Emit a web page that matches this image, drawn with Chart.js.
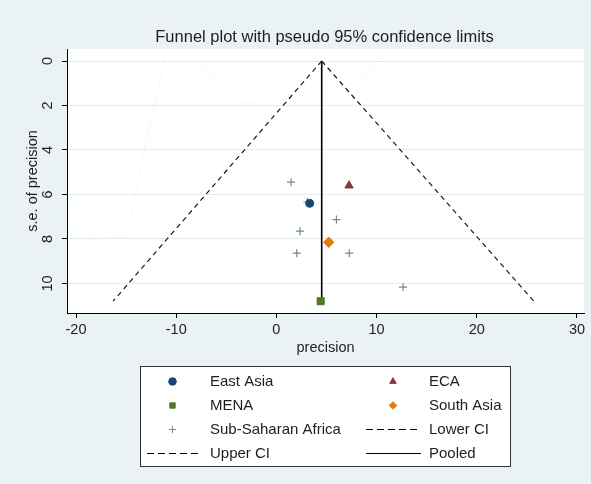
<!DOCTYPE html>
<html>
<head>
<meta charset="utf-8">
<script src="https://cdn.jsdelivr.net/npm/chart.js@4/dist/chart.umd.min.js"></script>
<style>
  html, body { margin: 0; padding: 0; background: #eaf2f3; }
  #wrap { width: 591px; height: 484px; position: relative; }
</style>
</head>
<body>
<div id="wrap"><canvas id="funnel"></canvas></div>
<script>
// --- DATA ---
const chartTitle = 'Funnel plot with pseudo 95% confidence limits';
const xTicks = [-20, -10, 0, 10, 20, 30];
const yTicks = [0, 2, 4, 6, 8, 10];

// region points: x = precision, y = s.e. of precision
const eastAsia = [{ x: 3.32, y: 6.4 }];
const eca = [{ x: 7.25, y: 5.6 }];
const mena = [{ x: 4.42, y: 10.8 }];
const southAsia = [{ x: 5.22, y: 8.15 }];
const subSaharan = [
    { x: 1.46, y: 5.45 }, { x: 3.09, y: 6.34 }, { x: 5.99, y: 7.13 },
    { x: 2.36, y: 7.65 }, { x: 2.03, y: 8.64 }, { x: 7.28, y: 8.64 },
    { x: 12.64, y: 10.17 }
];

// funnel lines
const lowerCI = [{ x: 4.52, y: 0 }, { x: -16.3, y: 10.8 }];
const upperCI = [{ x: 4.52, y: 0 }, { x: 25.7, y: 10.8 }];
const pooled = [{ x: 4.52, y: 0 }, { x: 4.52, y: 10.8 }];

// faint ghost traces visible in the plot background
const ghostA = [{ x: -11.15, y: -0.18 }, { x: -14.97, y: 7.9 }, { x: -20.1, y: 8.09 }];
const ghostB = [{ x: -8.05, y: -0.15 }, { x: -4.49, y: 1.83 }, { x: 0.13, y: 2.02 }];
const ghostC = [{ x: 10.3, y: -0.13 }, { x: 7.6, y: 1.2 }];

const FONT = 'Arial, "Liberation Sans", sans-serif';

// --- helpers ---
function pointSet(label, data, style, color, radius, extra) {
    return Object.assign({
        label, data,
        pointStyle: style,
        pointRadius: radius,
        pointHoverRadius: radius,
        backgroundColor: color,
        borderColor: color,
        pointBorderWidth: 1,
        showLine: false
    }, extra || {});
}

function lineSet(label, data, dash, width, color) {
    return {
        label, data,
        showLine: true,
        pointRadius: 0,
        borderColor: color,
        borderWidth: width,
        borderDash: dash,
        backgroundColor: color,
        fill: false
    };
}

function ghostSet(data) {
    const d = lineSet('', data, [1, 3], 1, 'rgba(195,202,206,0.5)');
    d.ghost = true;
    return d;
}

// --- PLUGINS ---
const bgPlugin = {
    id: 'bg',
    beforeDraw(chart) {
        const { ctx, chartArea: a } = chart;
        ctx.save();
        ctx.fillStyle = '#eaf2f3';
        ctx.fillRect(0, 0, chart.width, chart.height);
        ctx.fillStyle = '#ffffff';
        ctx.fillRect(a.left, a.top, a.right - a.left, a.bottom - a.top);
        ctx.restore();
    },
    afterDraw(chart) {
        const { ctx, chartArea: a } = chart;
        ctx.save();
        ctx.fillStyle = '#1e1e1e';
        ctx.font = '16.5px ' + FONT;
        ctx.textAlign = 'center';
        ctx.textBaseline = 'middle';
        ctx.fillText(chartTitle, (a.left + a.right) / 2 - 1, 37);
        ctx.restore();
    }
};

// legend box in two columns, like the Stata one
const legendPlugin = {
    id: 'boxLegend',
    afterDraw(chart) {
        const ctx = chart.ctx;
        const items = chart.data.datasets.filter(d => !d.ghost);
        const box = { x: 140.5, y: 366.5, w: 370, h: 100 };
        const rowY = [381.5, 405.5, 429.5, 453.5];
        const colSym = [172.5, 393];
        const colLine = [[147, 202], [366, 421]];
        const colText = [210, 429];

        ctx.save();
        ctx.fillStyle = '#ffffff';
        ctx.fillRect(box.x, box.y, box.w, box.h);
        ctx.strokeStyle = '#333333';
        ctx.lineWidth = 1;
        ctx.strokeRect(box.x, box.y, box.w, box.h);

        ctx.font = '15px ' + FONT;
        ctx.textBaseline = 'middle';
        ctx.textAlign = 'left';

        items.forEach((d, i) => {
            const col = i % 2;
            const y = rowY[Math.floor(i / 2)];
            if (d.showLine) {
                ctx.save();
                ctx.strokeStyle = '#000000';
                ctx.lineWidth = 1.2;
                ctx.setLineDash(d.borderDash && d.borderDash.length ? [7, 4] : []);
                ctx.beginPath();
                ctx.moveTo(colLine[col][0], y);
                ctx.lineTo(colLine[col][1], y);
                ctx.stroke();
                ctx.restore();
            } else {
                ctx.fillStyle = d.backgroundColor;
                ctx.strokeStyle = d.borderColor;
                ctx.lineWidth = 1;
                Chart.helpers.drawPoint(ctx, {
                    pointStyle: d.pointStyle,
                    radius: d.pointStyle === 'cross' ? 3.5 : 3.8,
                    borderWidth: 1,
                    rotation: 0
                }, colSym[col], y);
            }
            ctx.fillStyle = '#1e1e1e';
            ctx.fillText(d.label, colText[col], y);
        });
        ctx.restore();
    }
};

// --- CHART ---
const ctx = document.getElementById('funnel').getContext('2d');

new Chart(ctx, {
    type: 'scatter',
    data: {
        datasets: [
            pointSet('East Asia', eastAsia, 'circle', '#1a476f', 4),
            pointSet('ECA', eca, 'triangle', '#90353b', 4.8),
            pointSet('MENA', mena, 'rect', '#55752f', 5),
            pointSet('South Asia', southAsia, 'rectRot', '#e37e00', 5.2),
            pointSet('Sub-Saharan Africa', subSaharan, 'cross', '#6e8e84', 4, { pointBorderWidth: 1.2 }),
            lineSet('Lower CI', lowerCI, [5, 4], 1.2, '#1a1a1a'),
            lineSet('Upper CI', upperCI, [5, 4], 1.2, '#1a1a1a'),
            lineSet('Pooled', pooled, [], 1.6, '#000000'),
            ghostSet(ghostA),
            ghostSet(ghostB),
            ghostSet(ghostC)
        ]
    },
    options: {
        responsive: true,
        maintainAspectRatio: false,
        animation: false,
        layout: { padding: { top: 49, right: 7, bottom: 126, left: 0 } },
        plugins: {
            legend: { display: false },
            title: { display: false },
            tooltip: { enabled: false }
        },
        scales: {
            x: {
                type: 'linear',
                min: -20.9,
                max: 30.7,
                afterBuildTicks: s => { s.ticks = xTicks.map(v => ({ value: v })); },
                afterFit: s => { s.height = 45; },
                grid: { drawOnChartArea: false, tickLength: 5, tickColor: '#000', tickWidth: 1 },
                border: { display: true, color: '#000', width: 1 },
                ticks: { color: '#1e1e1e', font: { family: FONT, size: 14.5 }, padding: 3, maxRotation: 0 },
                title: { display: true, text: 'precision', color: '#1e1e1e', font: { family: FONT, size: 14.5 }, padding: { top: 0, bottom: 1 } }
            },
            y: {
                type: 'linear',
                reverse: true,
                min: -0.54,
                max: 11.33,
                afterBuildTicks: s => { s.ticks = yTicks.map(v => ({ value: v })); },
                afterFit: s => { s.width = 67; },
                grid: { color: '#e3ecef', lineWidth: 1, tickLength: 5, tickColor: '#000', tickWidth: 1 },
                border: { display: true, color: '#000', width: 1 },
                ticks: {
                    color: '#1e1e1e',
                    font: { family: FONT, size: 14.5 },
                    minRotation: 90,
                    maxRotation: 90,
                    crossAlign: 'center',
                    padding: 6
                },
                title: { display: true, text: 's.e. of precision', color: '#1e1e1e', font: { family: FONT, size: 14.5 }, padding: { top: 24, bottom: 0 } }
            }
        }
    },
    plugins: [bgPlugin, legendPlugin]
});
</script>
</body>
</html>
